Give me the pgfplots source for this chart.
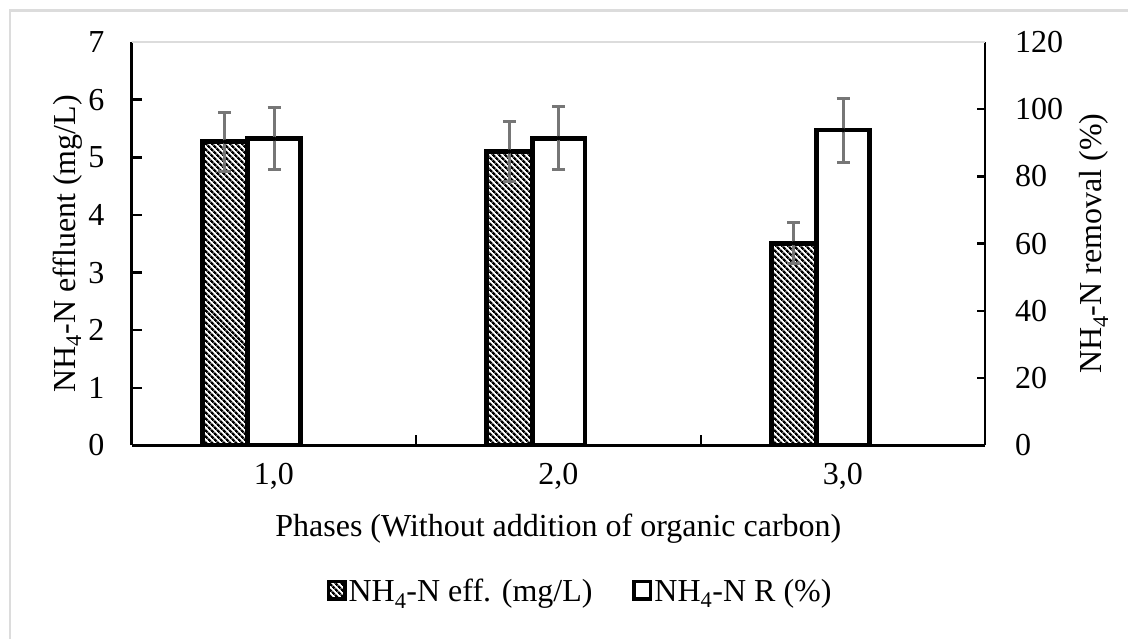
\documentclass[border=0pt]{standalone}
\usepackage{fontspec}
\setmainfont{Liberation Serif}
\usepackage{pgfplots}
\usepackage{pgfplotstable}
\pgfplotsset{compat=1.18}
\usetikzlibrary{patterns.meta}

\definecolor{errgray}{RGB}{118,118,118}
\definecolor{framegray}{RGB}{220,220,220}

% NH4-N effluent concentration (mg/L): phase, mean, sd
\pgfplotstableread{
x  y     e
1  5.27  0.51
2  5.10  0.52
3  3.51  0.35
}\effluent
% NH4-N removal (%): phase, mean, sd
\pgfplotstableread{
x  y     e
1  91.2  9.2
2  91.4  9.3
3  93.8  9.5
}\removal

\tikzset{
  hatchbar/.style={draw=black, line width=4.8pt,
    pattern={Lines[angle=-45,distance=4pt,line width=2.4pt]}, pattern color=black},
  whitebar/.style={draw=black, line width=4.8pt, fill=white},
}

\begin{document}
\fontsize{32}{38}\selectfont
\begin{tikzpicture}
\useasboundingbox (0,0) rectangle (1128pt,639pt);
% outer frame
\draw[framegray, line width=2.5pt] (10pt,0pt) -- (10pt,628.5pt) -- (1128pt,628.5pt);

\pgfplotsset{
  common/.style={
    at={(131.7pt,193.5pt)}, anchor=south west,
    scale only axis, width=853.3pt, height=403.5pt,
    xmin=0.5, xmax=3.5,
    /pgf/number format/assume math mode=true,
    axis line style={line width=2.5pt, black},
    tick align=inside,
  },
  sderr/.style={only marks, mark=none, forget plot,
    error bars/.cd, y dir=both, y explicit,
    error mark=|,
    error bar style={line width=3pt, draw=errgray},
    error mark options={line width=3pt, draw=errgray, mark size=6.5pt}},
}

% left axis: effluent concentration
\begin{axis}[common,
  ymin=0, ymax=7, ytick={0,1,...,7},
  axis x line*=bottom, axis y line*=left,
  xtick={1,2,3}, xticklabels={{1,0},{2,0},{3,0}},
  xtick style={draw=none},
  extra x ticks={1.5,2.5}, extra x tick labels={},
  extra x tick style={tick align=inside, xtick style={draw=black, line width=2pt}},
  major tick length=10pt,
  ytick style={line width=2.5pt, black},
  yticklabel style={anchor=east, inner sep=0pt, xshift=-27pt},
  xticklabel style={anchor=north, inner sep=0pt, yshift=-18pt},
  ylabel={NH\textsubscript{4}-N effluent (mg/L)},
  ylabel style={at={(axis description cs:-0.0664,0.5)}, anchor=base},
  xlabel={Phases (Without addition of organic carbon)},
  xlabel style={at={(axis description cs:0.5,0)}, anchor=base, yshift=-91.5pt},
]
\addplot[ybar, hatchbar, bar width=0.16, bar shift=-0.172]
  table[x=x, y=y] {\effluent};
\addplot[sderr] table[x expr=\thisrow{x}-0.172, y=y, y error=e] {\effluent};
\end{axis}

% right axis: removal efficiency
\begin{axis}[common,
  ymin=0, ymax=120, ytick={0,20,...,120},
  axis y line*=right, axis x line=none,
  major tick length=8pt,
  ytick style={line width=2.5pt, black},
  yticklabel style={anchor=west, inner sep=0pt, xshift=30pt},
  ylabel={NH\textsubscript{4}-N removal (\%)},
  ylabel style={at={(axis description cs:1.1371,0.5)}, anchor=base, rotate=0},
  legend style={at={(axis description cs:0.5254,-0.3655)}, anchor=center,
    draw=none, fill=none, legend columns=2, inner sep=0pt,
    nodes={inner xsep=2pt, inner ysep=0pt},
    /tikz/every even column/.append style={column sep=38pt}},
  legend image code/.code={\draw[#1, line width=3.5pt] (1.75pt,-0.25em+1.75pt) rectangle (18.25pt,0.41em-1.75pt);},
]
\draw[framegray, line width=2pt] (rel axis cs:0,1) -- (rel axis cs:1,1);
\addlegendimage{hatchbar}
\addlegendentry{NH\textsubscript{4}-N eff. (mg/L)}
\addplot[ybar, whitebar, bar width=0.186, bar shift=0.001]
  table[x=x, y=y] {\removal};
\addlegendentry{NH\textsubscript{4}-N R (\%)}
\addplot[sderr] table[x expr=\thisrow{x}+0.001, y=y, y error=e] {\removal};
\end{axis}
\end{tikzpicture}
\end{document}
